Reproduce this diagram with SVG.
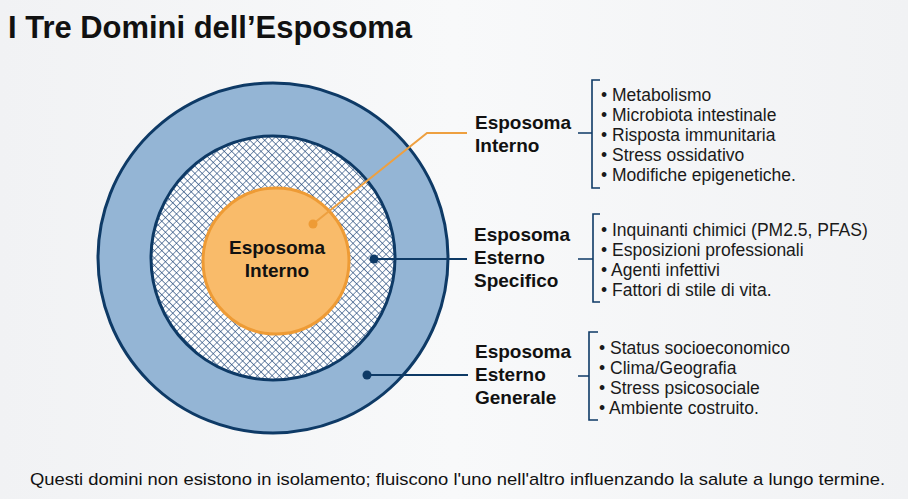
<svg xmlns="http://www.w3.org/2000/svg" width="908" height="499" viewBox="0 0 908 499">
<style>
.title{font-family:"Liberation Sans",Arial,sans-serif;font-weight:bold;font-size:31px;fill:#111}
.lbl{font-family:"Liberation Sans",Arial,sans-serif;font-weight:bold;font-size:19px;fill:#111}
.item{font-family:"Liberation Sans",Arial,sans-serif;font-size:17.5px;fill:#1a1a1a}
.foot{font-family:"Liberation Sans",Arial,sans-serif;font-size:17px;fill:#111}
.navy{stroke:#0e3a66;fill:none}
.br{stroke:#0e3a66;stroke-width:1.6;fill:none}
</style>
<defs>
<pattern id="hatch" patternUnits="userSpaceOnUse" width="5.2" height="5.2" patternTransform="rotate(45)">
<rect width="5.2" height="5.2" fill="#ffffff"/>
<path d="M0 0H5.2M0 0V5.2" stroke="#23497a" stroke-width="1.1"/>
</pattern>
<linearGradient id="bg" x1="0" y1="0" x2="1" y2="0">
<stop offset="0" stop-color="#f1f2f4"/>
<stop offset="0.5" stop-color="#f8f9fa"/>
<stop offset="1" stop-color="#f1f2f4"/>
</linearGradient>
</defs>
<rect width="908" height="499" fill="url(#bg)"/>
<text class="title" x="8" y="38" textLength="404" lengthAdjust="spacingAndGlyphs">I Tre Domini dell’Esposoma</text>

<g id="outer">
<circle cx="273" cy="258" r="175" fill="#94b5d5" stroke="#0e3a66" stroke-width="3"/>
</g>
<g id="middle">
<circle cx="273" cy="258" r="122" fill="url(#hatch)" stroke="#0e3a66" stroke-width="3"/>
</g>
<g id="inner">
<circle cx="276" cy="261" r="73" fill="#f9bb6a" stroke="#ee9b35" stroke-width="3"/>
<text class="lbl" x="277" y="254" text-anchor="middle">Esposoma</text>
<text class="lbl" x="277" y="277" text-anchor="middle">Interno</text>
</g>

<g id="connectors">
<path d="M313 224L427 133H467" stroke="#eea040" stroke-width="2" fill="none"/>
<circle cx="313" cy="224" r="4.5" fill="#ee9b35"/>
<path d="M374 259H467" class="navy" stroke-width="2"/>
<circle cx="374" cy="259" r="4.5" fill="#0e3a66"/>
<path d="M367 375H468" class="navy" stroke-width="2"/>
<circle cx="367" cy="375" r="4.5" fill="#0e3a66"/>
</g>

<g id="label-interno">
<text class="lbl" x="475" y="129">Esposoma</text>
<text class="lbl" x="475" y="152">Interno</text>
<path class="br" d="M578 133H592M600 80H592V188H600"/>
<text class="item" x="601" y="101">• Metabolismo</text>
<text class="item" x="601" y="121">• Microbiota intestinale</text>
<text class="item" x="601" y="141">• Risposta immunitaria</text>
<text class="item" x="601" y="161">• Stress ossidativo</text>
<text class="item" x="601" y="181">• Modifiche epigenetiche.</text>
</g>

<g id="label-specifico">
<text class="lbl" x="474" y="241">Esposoma</text>
<text class="lbl" x="474" y="264">Esterno</text>
<text class="lbl" x="474" y="287">Specifico</text>
<path class="br" d="M578 259H593M600 214H593V302H600"/>
<text class="item" x="601" y="236">• Inquinanti chimici (PM2.5, PFAS)</text>
<text class="item" x="601" y="256">• Esposizioni professionali</text>
<text class="item" x="601" y="276">• Agenti infettivi</text>
<text class="item" x="601" y="296">• Fattori di stile di vita.</text>
</g>

<g id="label-generale">
<text class="lbl" x="475" y="358">Esposoma</text>
<text class="lbl" x="475" y="381">Esterno</text>
<text class="lbl" x="475" y="404">Generale</text>
<path class="br" d="M578 376H589M598 332H589V420H598"/>
<text class="item" x="599" y="354">• Status socioeconomico</text>
<text class="item" x="599" y="374">• Clima/Geografia</text>
<text class="item" x="599" y="394">• Stress psicosociale</text>
<text class="item" x="599" y="414">• Ambiente costruito.</text>
</g>

<text class="foot" x="30" y="485" textLength="855" lengthAdjust="spacingAndGlyphs">Questi domini non esistono in isolamento; fluiscono l'uno nell'altro influenzando la salute a lungo termine.</text>
</svg>
